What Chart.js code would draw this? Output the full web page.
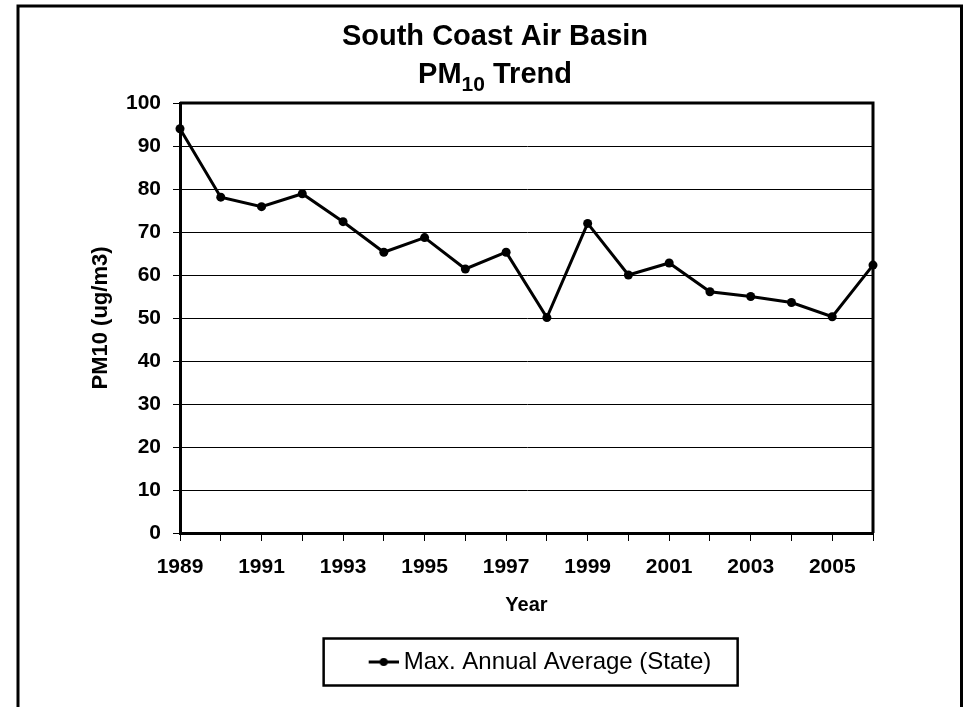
<!DOCTYPE html>
<html>
<head>
<meta charset="utf-8">
<script src="https://cdn.jsdelivr.net/npm/chart.js@4.4.1/dist/chart.umd.min.js"></script>
<style>
  html, body { margin: 0; padding: 0; background: #fff; }
  #wrap { width: 965px; height: 707px; }
</style>
</head>
<body>
<div id="wrap"><canvas id="c" width="965" height="707"></canvas></div>
<script>
// ---- data ----
const years = ['1989','1990','1991','1992','1993','1994','1995','1996','1997','1998',
               '1999','2000','2001','2002','2003','2004','2005','2006'];
const pm10Values = [94, 78.1, 75.9, 78.9, 72.4, 65.3, 68.7, 61.4, 65.3, 50.1,
                    72.0, 60.0, 62.8, 56.1, 55.0, 53.6, 50.3, 62.3];
const seriesName = 'Max. Annual Average (State)';
const titleLine1 = 'South Coast Air Basin';
const titleLine2 = ['PM', '10', ' Trend'];
const yAxisTitle = 'PM10 (ug/m3)';
const xAxisTitle = 'Year';
const yMin = 0, yMax = 100, yStep = 10;

// legend marker: line with dot (drawn in the right part of a wider transparent canvas)
const marker = document.createElement('canvas');
marker.width = 64; marker.height = 12;
(function(){
  const m = marker.getContext('2d');
  m.strokeStyle = '#000'; m.lineWidth = 3;
  m.beginPath(); m.moveTo(34, 6); m.lineTo(64, 6); m.stroke();
  m.fillStyle = '#000';
  m.beginPath(); m.arc(49, 6, 4, 0, Math.PI * 2); m.fill();
})();

const framePlugin = {
  id: 'frames',
  beforeDraw(chart) {
    const ctx = chart.ctx;
    ctx.save();
    ctx.fillStyle = '#fff';
    ctx.fillRect(0, 0, chart.width, chart.height);
    ctx.restore();
  },
  afterDatasetsDraw(chart) {
    const {ctx, chartArea: a} = chart;
    ctx.save();
    ctx.strokeStyle = '#000';
    ctx.lineWidth = 3;
    ctx.beginPath();
    ctx.moveTo(a.left, a.top);
    ctx.lineTo(a.right, a.top);
    ctx.lineTo(a.right, a.bottom);
    ctx.stroke();
    ctx.restore();
  },
  afterDraw(chart) {
    const ctx = chart.ctx;
    ctx.save();
    // outer chart border
    ctx.strokeStyle = '#000';
    ctx.lineWidth = 3;
    ctx.strokeRect(18, 6, 943.5, 760);
    // title
    ctx.fillStyle = '#000';
    ctx.textBaseline = 'alphabetic';
    const bigFont = 'bold 29px "Liberation Sans", Arial, sans-serif';
    const subFont = 'bold 21px "Liberation Sans", Arial, sans-serif';
    const cx = 495;
    ctx.font = bigFont;
    ctx.textAlign = 'center';
    ctx.fillText(titleLine1, cx, 45);
    ctx.textAlign = 'left';
    const w1 = ctx.measureText(titleLine2[0]).width;
    const w3 = ctx.measureText(titleLine2[2]).width;
    ctx.font = subFont;
    const w2 = ctx.measureText(titleLine2[1]).width;
    let x = cx - (w1 + w2 + w3) / 2;
    ctx.font = bigFont;
    ctx.fillText(titleLine2[0], x, 83); x += w1;
    ctx.font = subFont;
    ctx.fillText(titleLine2[1], x, 91); x += w2;
    ctx.font = bigFont;
    ctx.fillText(titleLine2[2], x, 83);
    // legend frame
    const lg = chart.legend;
    if (lg && lg.legendHitBoxes && lg.legendHitBoxes.length) {
      const hb = lg.legendHitBoxes[0];
      const my = hb.top + hb.height / 2;
      ctx.lineWidth = 2.5;
      ctx.strokeRect(hb.left - 18, my - 23.5, 414, 47);
    }
    ctx.restore();
  }
};

new Chart(document.getElementById('c'), {
  type: 'line',
  data: {
    labels: years,
    datasets: [{
      label: seriesName,
      data: pm10Values,
      borderColor: '#000',
      backgroundColor: '#000',
      borderWidth: 3,
      pointRadius: 4.5,
      pointHoverRadius: 4.5,
      pointBackgroundColor: '#000',
      pointBorderWidth: 0,
      pointStyle: 'circle',
      tension: 0,
      clip: false
    }]
  },
  options: {
    responsive: false,
    animation: false,
    devicePixelRatio: 1,
    layout: { padding: { top: 103, left: 0, right: 92, bottom: 23 } },
    plugins: {
      title: { display: false },
      tooltip: { enabled: false },
      legend: {
        display: true,
        position: 'bottom',
        fullSize: false,
        labels: {
          color: '#000',
          font: { family: '"Liberation Sans", Arial, sans-serif', size: 24 },
          padding: 10,
          usePointStyle: true,
          pointStyleWidth: 50,
          generateLabels(chart) {
            return chart.data.datasets.map((ds, i) => ({
              text: ds.label,
              pointStyle: marker,
              fillStyle: '#000',
              strokeStyle: '#000',
              lineWidth: 0,
              datasetIndex: i,
              hidden: false
            }));
          }
        }
      }
    },
    scales: {
      x: {
        type: 'category',
        offset: false,
        afterFit(scale) { scale.height = 107; },
        grid: {
          display: true,
          drawOnChartArea: false,
          drawTicks: true,
          tickLength: 8,
          color: '#000',
          lineWidth: 1
        },
        border: { display: true, color: '#000', width: 3 },
        ticks: {
          autoSkip: false,
          maxRotation: 0,
          minRotation: 0,
          padding: 14,
          color: '#000',
          font: { family: '"Liberation Sans", Arial, sans-serif', size: 21, weight: 'bold' },
          callback(val, idx) { return idx % 2 === 0 ? years[idx] : ''; }
        },
        title: {
          display: true,
          text: xAxisTitle,
          color: '#000',
          font: { family: '"Liberation Sans", Arial, sans-serif', size: 20, weight: 'bold' },
          padding: { top: 0, bottom: 23 }
        }
      },
      y: {
        min: yMin,
        max: yMax,
        afterFit(scale) { scale.width = 180; },
        grid: {
          color: '#000',
          lineWidth: 1,
          drawTicks: true,
          tickLength: 7
        },
        border: { display: true, color: '#000', width: 3 },
        ticks: {
          stepSize: yStep,
          padding: 12,
          color: '#000',
          font: { family: '"Liberation Sans", Arial, sans-serif', size: 21, weight: 'bold' }
        },
        title: {
          display: true,
          text: yAxisTitle,
          color: '#000',
          font: { family: '"Liberation Sans", Arial, sans-serif', size: 22, weight: 'bold' },
          padding: { top: 88, bottom: 0 }
        }
      }
    }
  },
  plugins: [framePlugin]
});
</script>
</body>
</html>
